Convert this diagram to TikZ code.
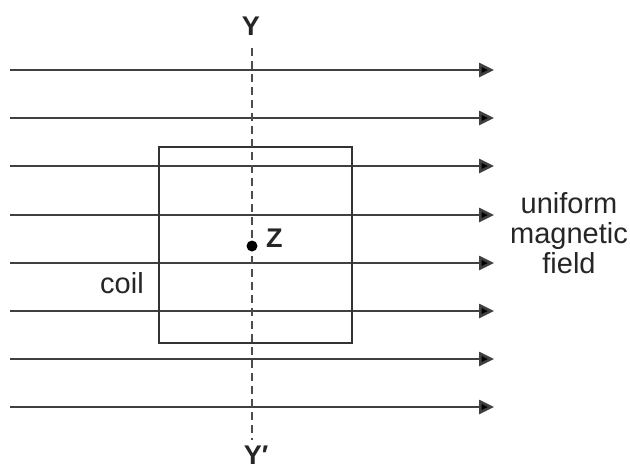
\documentclass[tikz,border=0pt]{standalone}
\usepackage{fontspec}
\setmainfont{Liberation Sans}
\usetikzlibrary{arrows.meta}
\begin{document}
\begin{tikzpicture}[x=1pt,y=-1pt,
  fieldline/.style={draw=black!75,line width=2.6pt,-{Triangle[length=15pt,width=14pt,fill=black]}},
  axisline/.style={draw=black!70,line width=1.5pt,dash pattern=on 8pt off 5pt},
  coilbox/.style={draw=black!80,line width=2.4pt},
  lbl/.style={font=\fontsize{29}{30}\selectfont,text=black!85,inner sep=0pt},
  axlbl/.style={font=\fontsize{27}{30}\selectfont\bfseries,text=black!85,inner sep=0pt}]
\useasboundingbox (0,0) rectangle (630,472);
\fill[white] (0,0) rectangle (630,472);
% field lines
\foreach \i/\y in {1/70,2/118,3/166,4/215,5/263,6/311,7/359,8/407}{
  \coordinate (s\i) at (10,\y);
  \coordinate (e\i) at (494,\y);
  \draw[fieldline] (s\i) -- (e\i);
}
% coil
\node[coilbox,minimum width=193pt,minimum height=196pt,inner sep=0pt] (coil) at (255.5,245) {};
% axis
\coordinate (ytop) at (252,48);
\coordinate (ybot) at (252,440);
\draw[axisline] (ytop) -- (ybot);
\node[axlbl,anchor=base] (Y) at (251,35) {Y};
\node[axlbl,anchor=base] (Yp) at (256,464) {Y′};
% point Z
\coordinate (zdot) at (252,246);
\fill[black] (zdot) circle (5.5pt);
\node[axlbl,anchor=base west] (Z) at (266,247) {Z};
% labels
\node[lbl,anchor=base] (coillbl) at (122,293) {coil};
\node[lbl,align=center,anchor=north] (field) at (569,192) {uniform\\magnetic\\field};
\end{tikzpicture}
\end{document}
